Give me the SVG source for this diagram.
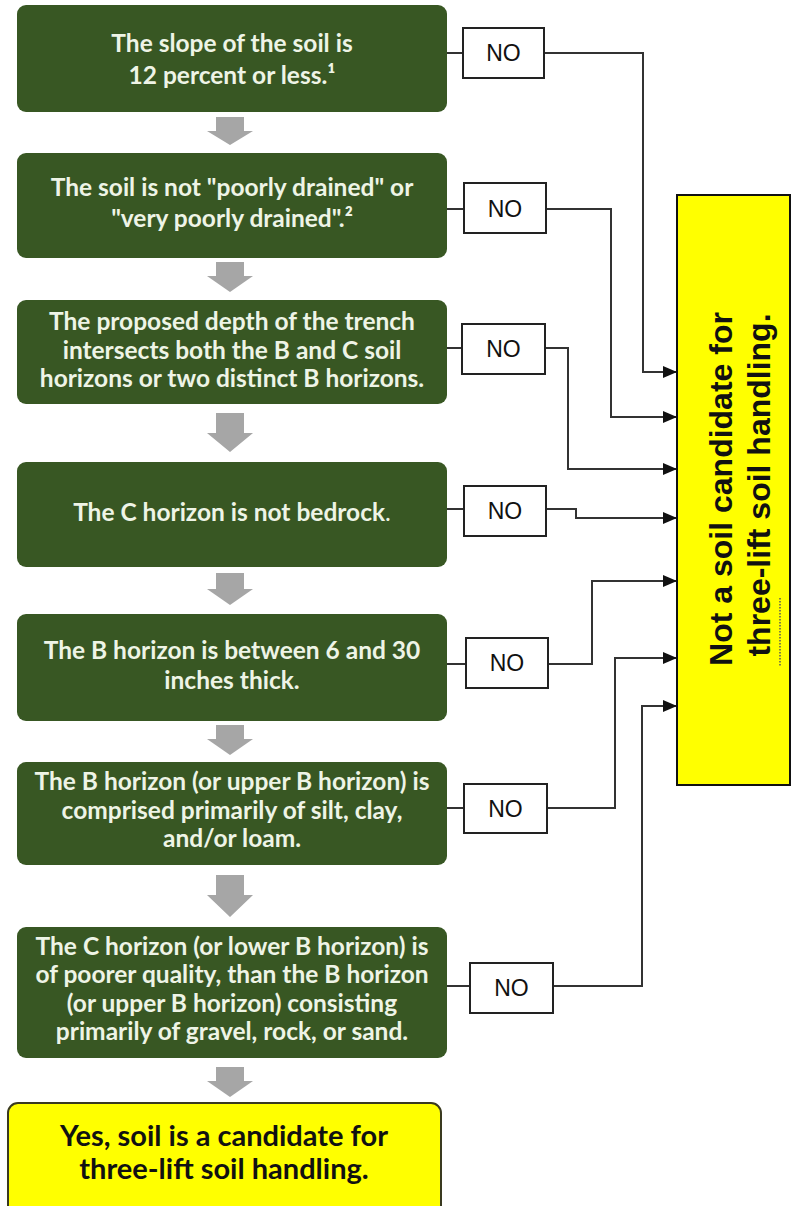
<svg xmlns="http://www.w3.org/2000/svg" width="792" height="1206" viewBox="0 0 792 1206">
<defs>
<style>
.g{fill:#385723;}
.gt{font-family:Lato,"Liberation Sans",sans-serif;font-weight:bold;font-size:24.5px;fill:#eef4e6;text-anchor:middle;}
.no{fill:#fff;stroke:#222;stroke-width:2;}
.nt{font-family:"Liberation Sans",Arial,sans-serif;font-size:23px;fill:#111;text-anchor:middle;}
.ga{fill:#a6a6a6;}
.c{fill:none;stroke:#333;stroke-width:2;}
.s{fill:none;stroke:#333;stroke-width:2;}
.yt{font-family:Lato,"Liberation Sans",sans-serif;font-weight:bold;font-size:29px;fill:#111;text-anchor:middle;}
.rt{font-family:"Liberation Sans",Arial,sans-serif;font-weight:bold;font-size:32px;fill:#111;text-anchor:middle;}
</style>
<marker id="ah" markerUnits="userSpaceOnUse" markerWidth="14" markerHeight="14" viewBox="0 0 14 14" refX="14" refY="7" orient="auto">
<path d="M0,1 L14,7 L0,13 Z" fill="#111"/>
</marker>
</defs>
<rect width="792" height="1206" fill="#fff"/>

<g id="flow-arrows">
<path class="ga" d="M216,117 H244 V131 H253 L230,145 L207,131 H216 Z"/>
<path class="ga" d="M216,262 H244 V276 H253 L230,292 L207,276 H216 Z"/>
<path class="ga" d="M216,413 H244 V433 H253 L230,452 L207,433 H216 Z"/>
<path class="ga" d="M216,573 H244 V589 H253 L230,605 L207,589 H216 Z"/>
<path class="ga" d="M216,725 H244 V739 H253 L230,755 L207,739 H216 Z"/>
<path class="ga" d="M216,875 H244 V895 H253 L230,917 L207,895 H216 Z"/>
<path class="ga" d="M216,1067 H244 V1081 H253 L230,1097 L207,1081 H216 Z"/>
</g>

<g id="connectors">
<line class="s" x1="447" y1="53" x2="463" y2="53"/>
<line class="s" x1="447" y1="209" x2="464" y2="209"/>
<line class="s" x1="447" y1="348" x2="462" y2="348"/>
<line class="s" x1="447" y1="509" x2="464" y2="509"/>
<line class="s" x1="447" y1="664" x2="466" y2="664"/>
<line class="s" x1="447" y1="808" x2="464" y2="808"/>
<line class="s" x1="447" y1="986" x2="470" y2="986"/>
<polyline class="c" points="544,53 643,53 643,372 677,372" marker-end="url(#ah)"/>
<polyline class="c" points="546,209 611,209 611,417 677,417" marker-end="url(#ah)"/>
<polyline class="c" points="545,348 568,348 568,469 677,469" marker-end="url(#ah)"/>
<polyline class="c" points="546,509 576,509 576,518 677,518" marker-end="url(#ah)"/>
<polyline class="c" points="548,664 592,664 592,581 677,581" marker-end="url(#ah)"/>
<polyline class="c" points="547,808 615,808 615,658 677,658" marker-end="url(#ah)"/>
<polyline class="c" points="553,986 642,986 642,706 677,706" marker-end="url(#ah)"/>
</g>

<g id="q1">
<rect class="g" x="17" y="5" width="430" height="107" rx="9"/>
<text class="gt"><tspan x="232" y="52">The slope of the soil is</tspan><tspan x="232" y="84">12 percent or less.¹</tspan></text>
</g>
<g id="q2">
<rect class="g" x="17" y="153" width="430" height="105" rx="9"/>
<text class="gt"><tspan x="232" y="196">The soil is not "poorly drained" or</tspan><tspan x="232" y="227">"very poorly drained".²</tspan></text>
</g>
<g id="q3">
<rect class="g" x="17" y="300" width="430" height="104" rx="9"/>
<text class="gt"><tspan x="232" y="330">The proposed depth of the trench</tspan><tspan x="232" y="359">intersects both the B and C soil</tspan><tspan x="232" y="387">horizons or two distinct B horizons.</tspan></text>
</g>
<g id="q4">
<rect class="g" x="17" y="462" width="430" height="105" rx="9"/>
<text class="gt" x="232" y="521">The C horizon is not bedrock<tspan font-weight="normal">.</tspan></text>
</g>
<g id="q5">
<rect class="g" x="17" y="614" width="430" height="107" rx="9"/>
<text class="gt"><tspan x="232" y="659">The B horizon is between 6 and 30</tspan><tspan x="232" y="689">inches thick.</tspan></text>
</g>
<g id="q6">
<rect class="g" x="17" y="762" width="430" height="103" rx="9"/>
<text class="gt"><tspan x="232" y="790">The B horizon (or upper B horizon) is</tspan><tspan x="232" y="819">comprised primarily of silt, clay,</tspan><tspan x="232" y="847">and/or loam.</tspan></text>
</g>
<g id="q7">
<rect class="g" x="17" y="927" width="430" height="131" rx="9"/>
<text class="gt"><tspan x="232" y="955">The C horizon (or lower B horizon) is</tspan><tspan x="232" y="983">of poorer quality, than the B horizon</tspan><tspan x="232" y="1012">(or upper B horizon) consisting</tspan><tspan x="232" y="1040">primarily of gravel, rock, or sand.</tspan></text>
</g>

<g id="no1"><rect class="no" x="463" y="28" width="81" height="50"/><text class="nt" x="503.5" y="61">NO</text></g>
<g id="no2"><rect class="no" x="464" y="183" width="82" height="50"/><text class="nt" x="505" y="217">NO</text></g>
<g id="no3"><rect class="no" x="462" y="324" width="83" height="50"/><text class="nt" x="503.5" y="357">NO</text></g>
<g id="no4"><rect class="no" x="464" y="486" width="82" height="50"/><text class="nt" x="505" y="519">NO</text></g>
<g id="no5"><rect class="no" x="466" y="638" width="82" height="50"/><text class="nt" x="507" y="671">NO</text></g>
<g id="no6"><rect class="no" x="464" y="784" width="83" height="49"/><text class="nt" x="505.5" y="817">NO</text></g>
<g id="no7"><rect class="no" x="470" y="963" width="83" height="50"/><text class="nt" x="511.5" y="996">NO</text></g>

<g id="not-candidate">
<rect x="677" y="195" width="113" height="590" fill="#ffff00" stroke="#111" stroke-width="2"/>
<text class="rt" transform="translate(732,489) rotate(-90)" x="0" y="0">Not a soil candidate for</text>
<text class="rt" transform="translate(770,485) rotate(-90)" x="0" y="0">three-lift soil handling.</text>
<line x1="780" y1="598" x2="780" y2="666" stroke="#555" stroke-width="1.5" stroke-dasharray="1.5 1.5"/>
</g>

<g id="yes-candidate">
<rect x="8" y="1103" width="433" height="115" rx="10" fill="#ffff00" stroke="#3a3a20" stroke-width="2"/>
<text class="yt"><tspan x="224" y="1146">Yes, soil is a candidate for</tspan><tspan x="224" y="1179">three-lift soil handling.</tspan></text>
</g>
</svg>
